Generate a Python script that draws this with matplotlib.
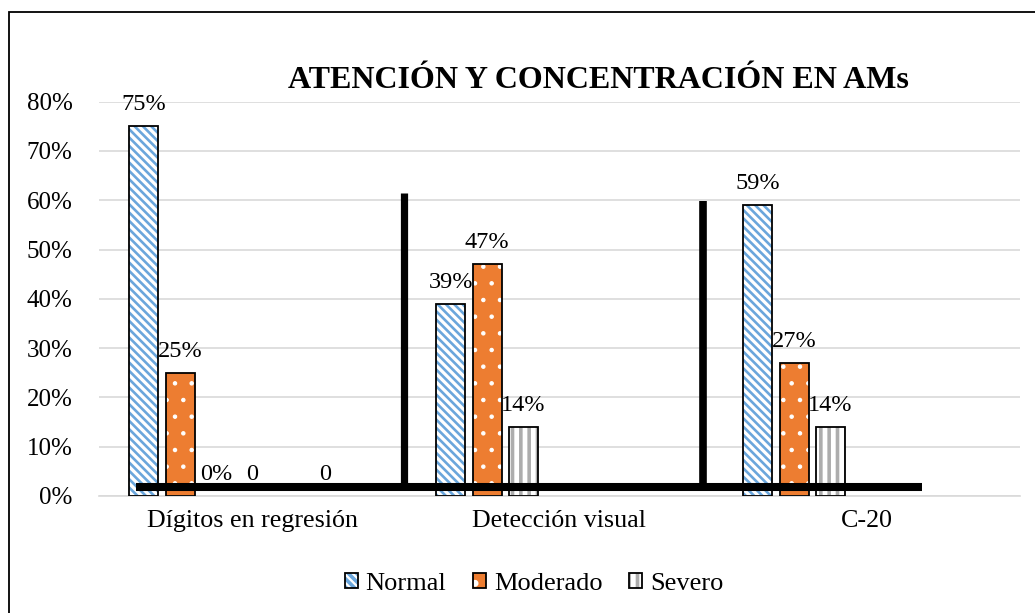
import numpy as np
import matplotlib.pyplot as plt
from matplotlib.patches import Rectangle

plt.rcParams['font.family'] = ['Liberation Serif', 'DejaVu Serif']

categories = ["Dígitos en regresión", "Detección visual", "C-20"]
normal = [75, 39, 59]
moderado = [25, 47, 27]
severo = [0, 14, 14]
# two empty series that only leave a "0" label in the first group
extra_a = [0, np.nan, np.nan]
extra_b = [0, np.nan, np.nan]

W, H = 1035, 613
fig = plt.figure(figsize=(W / 100, H / 100), dpi=100)
ax = fig.add_axes([99 / W, 1 - 496 / H, 921 / W, (496 - 101.6) / H])

x = np.arange(len(categories))
step = 36.2 / 307
width = 29 / 307


def hatched_bars(pos, vals, face, hatch, hatch_color, hatch_lw):
    vals = np.asarray(vals, dtype=float)
    plt.rcParams['hatch.linewidth'] = hatch_lw
    fill = ax.bar(pos, vals, width, color=face, edgecolor=hatch_color,
                  hatch=hatch, linewidth=0, zorder=2)
    for p in fill:
        if hasattr(p, 'set_hatch_linewidth'):
            p.set_hatch_linewidth(hatch_lw)
    edge = ax.bar(pos, np.where(vals > 0, vals, np.nan), width, fill=False,
                  edgecolor='black', linewidth=1.3, zorder=3)
    return fill, edge


h_norm = hatched_bars(x - 3 * step, normal, 'white', '\\\\\\\\', '#6AA6DC', 1.9)
h_mod = hatched_bars(x - 2 * step, moderado, '#ED7D31', '.', 'white', 0.8)
h_sev = hatched_bars(x - 1 * step, severo, 'white', '||', '#ADADAD', 2.6)


def add_labels(pos, vals, fmt):
    for px, v in zip(pos, vals):
        if np.isnan(v):
            continue
        ax.annotate(fmt(v), (px, v), xytext=(0, 8), textcoords='offset points',
                    ha='center', va='bottom', fontsize=17.5)


pct = lambda v: f"{v:.0f}%"
add_labels(x - 3 * step, normal, pct)
add_labels(x - 2 * step, moderado, pct)
add_labels(x - 1 * step, severo, pct)
add_labels(x + 0 * step, extra_a, lambda v: f"{v:.0f}")
add_labels(x + 2 * step, extra_b, lambda v: f"{v:.0f}")

# heavy separator strokes drawn over the plot
ax.plot([-0.38, 2.18], [1.8, 1.8], color='black', lw=5.8,
        solid_capstyle='butt', zorder=6)
ax.plot([0.4935, 0.4935], [1.8, 61.4], color='black', lw=5.2,
        solid_capstyle='butt', zorder=6)
ax.plot([1.468, 1.468], [1.8, 59.9], color='black', lw=5.5,
        solid_capstyle='butt', zorder=6)

ax.set_xlim(-0.5, 2.5)
ax.set_ylim(0, 80)
ax.set_yticks(np.arange(0, 81, 10))
ax.set_yticklabels([f"{v}%" for v in range(0, 81, 10)], fontsize=18)
ax.set_xticks(x)
ax.set_xticklabels(categories, fontsize=18.7)
ax.tick_params(axis='y', length=0, pad=19)
ax.tick_params(axis='x', length=0, pad=10)
ax.yaxis.grid(True, color='#D9D9D9', lw=1.2)
ax.set_axisbelow(True)
for side in ['left', 'right', 'top']:
    ax.spines[side].set_visible(False)
ax.spines['bottom'].set_color('#D9D9D9')
ax.spines['bottom'].set_linewidth(1.2)

fig.text(598 / W, 1 - 81 / H, "ATENCIÓN Y CONCENTRACIÓN EN AMs",
         ha='center', va='center', fontsize=23, fontweight='bold')

handles = [(h_norm[0][0], h_norm[1][0]), (h_mod[0][0], h_mod[1][0]),
           (h_sev[0][1], h_sev[1][1])]
fig.legend(handles, ["Normal", "Moderado", "Severo"], loc='center',
           bbox_to_anchor=(534 / W, 1 - 584 / H), ncol=3, frameon=False,
           handlelength=0.5, handleheight=0.5, handletextpad=0.3,
           columnspacing=1.0, fontsize=19)

# chart frame
fig.add_artist(Rectangle((9 / W, -0.1), 2, 1 - 12 / H + 0.1,
                         transform=fig.transFigure, fill=False,
                         edgecolor='black', lw=1.3))

fig.savefig('out.png', dpi=100)
